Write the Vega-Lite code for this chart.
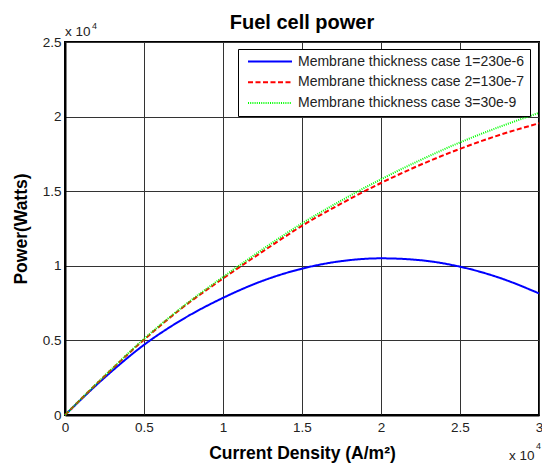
{
  "$schema": "https://vega.github.io/schema/vega-lite/v6.json",
  "width": 474,
  "height": 373,
  "autosize": {"type": "none"},
  "padding": {"left": 65, "top": 42, "right": 3, "bottom": 48},
  "background": "white",
  "config": {
    "font": "Liberation Sans",
    "view": {"stroke": "black", "strokeWidth": 2},
    "axis": {
      "grid": true,
      "gridColor": "#333",
      "gridWidth": 1,
      "domain": true,
      "domainColor": "black",
      "domainWidth": 2,
      "ticks": false,
      "labelFlush": false,
      "labelFont": "Liberation Sans",
      "labelFontSize": 13.5,
      "labelColor": "#222",
      "titleFont": "Liberation Sans",
      "titleFontSize": 17.5,
      "titleFontWeight": "bold",
      "titleColor": "black"
    },
    "legend": {
      "orient": "none",
      "legendX": 173,
      "legendY": 7,
      "symbolType": "stroke",
      "symbolSize": 1936,
      "symbolStrokeWidth": 2,
      "labelFont": "Liberation Sans",
      "labelFontSize": 14,
      "labelColor": "#222",
      "labelLimit": 400,
      "strokeColor": "black",
      "fillColor": "white",
      "padding": 5,
      "clipHeight": 15,
      "rowPadding": 5.7,
      "symbolOffset": 4,
      "labelOffset": 5
    }
  },
  "title": {
    "text": "Fuel cell power",
    "font": "Liberation Sans",
    "fontSize": 20,
    "fontWeight": "bold",
    "color": "black",
    "anchor": "middle",
    "baseline": "alphabetic",
    "offset": -27
  },
  "layer": [
    {
      "data": {
        "values": [
          {"I": 0, "P": 0, "case": "Membrane thickness case 1=230e-6"},
          {"I": 2500, "P": 2500, "case": "Membrane thickness case 1=230e-6"},
          {"I": 5000, "P": 4700, "case": "Membrane thickness case 1=230e-6"},
          {"I": 7500, "P": 6450, "case": "Membrane thickness case 1=230e-6"},
          {"I": 10000, "P": 7850, "case": "Membrane thickness case 1=230e-6"},
          {"I": 12500, "P": 8990, "case": "Membrane thickness case 1=230e-6"},
          {"I": 15000, "P": 9810, "case": "Membrane thickness case 1=230e-6"},
          {"I": 17500, "P": 10315, "case": "Membrane thickness case 1=230e-6"},
          {"I": 20000, "P": 10500, "case": "Membrane thickness case 1=230e-6"},
          {"I": 22500, "P": 10374, "case": "Membrane thickness case 1=230e-6"},
          {"I": 25000, "P": 9940, "case": "Membrane thickness case 1=230e-6"},
          {"I": 27500, "P": 9196, "case": "Membrane thickness case 1=230e-6"},
          {"I": 30000, "P": 8150, "case": "Membrane thickness case 1=230e-6"},
          {"I": 0, "P": 0, "case": "Membrane thickness case 2=130e-7"},
          {"I": 2500, "P": 2600, "case": "Membrane thickness case 2=130e-7"},
          {"I": 5000, "P": 5050, "case": "Membrane thickness case 2=130e-7"},
          {"I": 7500, "P": 7250, "case": "Membrane thickness case 2=130e-7"},
          {"I": 10000, "P": 9150, "case": "Membrane thickness case 2=130e-7"},
          {"I": 12500, "P": 10950, "case": "Membrane thickness case 2=130e-7"},
          {"I": 15000, "P": 12680, "case": "Membrane thickness case 2=130e-7"},
          {"I": 17500, "P": 14180, "case": "Membrane thickness case 2=130e-7"},
          {"I": 20000, "P": 15550, "case": "Membrane thickness case 2=130e-7"},
          {"I": 22500, "P": 16770, "case": "Membrane thickness case 2=130e-7"},
          {"I": 25000, "P": 17840, "case": "Membrane thickness case 2=130e-7"},
          {"I": 27500, "P": 18770, "case": "Membrane thickness case 2=130e-7"},
          {"I": 30000, "P": 19550, "case": "Membrane thickness case 2=130e-7"},
          {"I": 0, "P": 0, "case": "Membrane thickness case 3=30e-9"},
          {"I": 2500, "P": 2620, "case": "Membrane thickness case 3=30e-9"},
          {"I": 5000, "P": 5100, "case": "Membrane thickness case 3=30e-9"},
          {"I": 7500, "P": 7300, "case": "Membrane thickness case 3=30e-9"},
          {"I": 10000, "P": 9250, "case": "Membrane thickness case 3=30e-9"},
          {"I": 12500, "P": 11100, "case": "Membrane thickness case 3=30e-9"},
          {"I": 15000, "P": 12840, "case": "Membrane thickness case 3=30e-9"},
          {"I": 17500, "P": 14380, "case": "Membrane thickness case 3=30e-9"},
          {"I": 20000, "P": 15800, "case": "Membrane thickness case 3=30e-9"},
          {"I": 22500, "P": 17090, "case": "Membrane thickness case 3=30e-9"},
          {"I": 25000, "P": 18270, "case": "Membrane thickness case 3=30e-9"},
          {"I": 27500, "P": 19310, "case": "Membrane thickness case 3=30e-9"},
          {"I": 30000, "P": 20250, "case": "Membrane thickness case 3=30e-9"}
        ]
      },
      "mark": {"type": "line", "interpolate": "monotone", "strokeWidth": 2},
      "encoding": {
        "x": {
          "field": "I",
          "type": "quantitative",
          "scale": {"domain": [0, 30000], "nice": false},
          "axis": {
            "values": [0, 5000, 10000, 15000, 20000, 25000, 30000],
            "labelExpr": "datum.value / 10000",
            "labelPadding": 5,
            "title": "Current Density (A/m²)",
            "titlePadding": 11
          }
        },
        "y": {
          "field": "P",
          "type": "quantitative",
          "scale": {"domain": [0, 25000], "nice": false},
          "axis": {
            "values": [0, 5000, 10000, 15000, 20000, 25000],
            "labelExpr": "datum.value / 10000",
            "labelPadding": 4,
            "title": "Power(Watts)",
            "titlePadding": 12
          }
        },
        "color": {
          "field": "case",
          "type": "nominal",
          "scale": {
            "domain": ["Membrane thickness case 1=230e-6", "Membrane thickness case 2=130e-7", "Membrane thickness case 3=30e-9"],
            "range": ["#0000ff", "#ff0000", "#00ff00"]
          },
          "legend": {"title": null}
        },
        "strokeDash": {
          "field": "case",
          "type": "nominal",
          "scale": {
            "domain": ["Membrane thickness case 1=230e-6", "Membrane thickness case 2=130e-7", "Membrane thickness case 3=30e-9"],
            "range": [[1, 0], [5, 2.5], [1, 1.2]]
          },
          "legend": {"title": null}
        }
      }
    },
    {
      "data": {"values": [{"I": 0, "P": 25000, "label": "x 10"}]},
      "mark": {"type": "text", "align": "left", "baseline": "alphabetic", "font": "Liberation Sans", "fontWeight": "normal", "fontSize": 13.5, "color": "#222", "dy": -6},
      "encoding": {
        "x": {"field": "I", "type": "quantitative"},
        "y": {"field": "P", "type": "quantitative"},
        "text": {"field": "label"}
      }
    },
    {
      "data": {"values": [{"I": 0, "P": 25000, "label": "4"}]},
      "mark": {"type": "text", "align": "left", "baseline": "alphabetic", "font": "Liberation Sans", "fontWeight": "normal", "fontSize": 9, "color": "#222", "dx": 27, "dy": -13.5},
      "encoding": {
        "x": {"field": "I", "type": "quantitative"},
        "y": {"field": "P", "type": "quantitative"},
        "text": {"field": "label"}
      }
    },
    {
      "data": {"values": [{"I": 30000, "P": 0, "label": "x 10"}]},
      "mark": {"type": "text", "align": "left", "baseline": "alphabetic", "font": "Liberation Sans", "fontWeight": "normal", "fontSize": 13.5, "color": "#222", "dx": -30, "dy": 45},
      "encoding": {
        "x": {"field": "I", "type": "quantitative"},
        "y": {"field": "P", "type": "quantitative"},
        "text": {"field": "label"}
      }
    },
    {
      "data": {"values": [{"I": 30000, "P": 0, "label": "4"}]},
      "mark": {"type": "text", "align": "left", "baseline": "alphabetic", "font": "Liberation Sans", "fontWeight": "normal", "fontSize": 9, "color": "#222", "dx": -3, "dy": 33.5},
      "encoding": {
        "x": {"field": "I", "type": "quantitative"},
        "y": {"field": "P", "type": "quantitative"},
        "text": {"field": "label"}
      }
    }
  ]
}
